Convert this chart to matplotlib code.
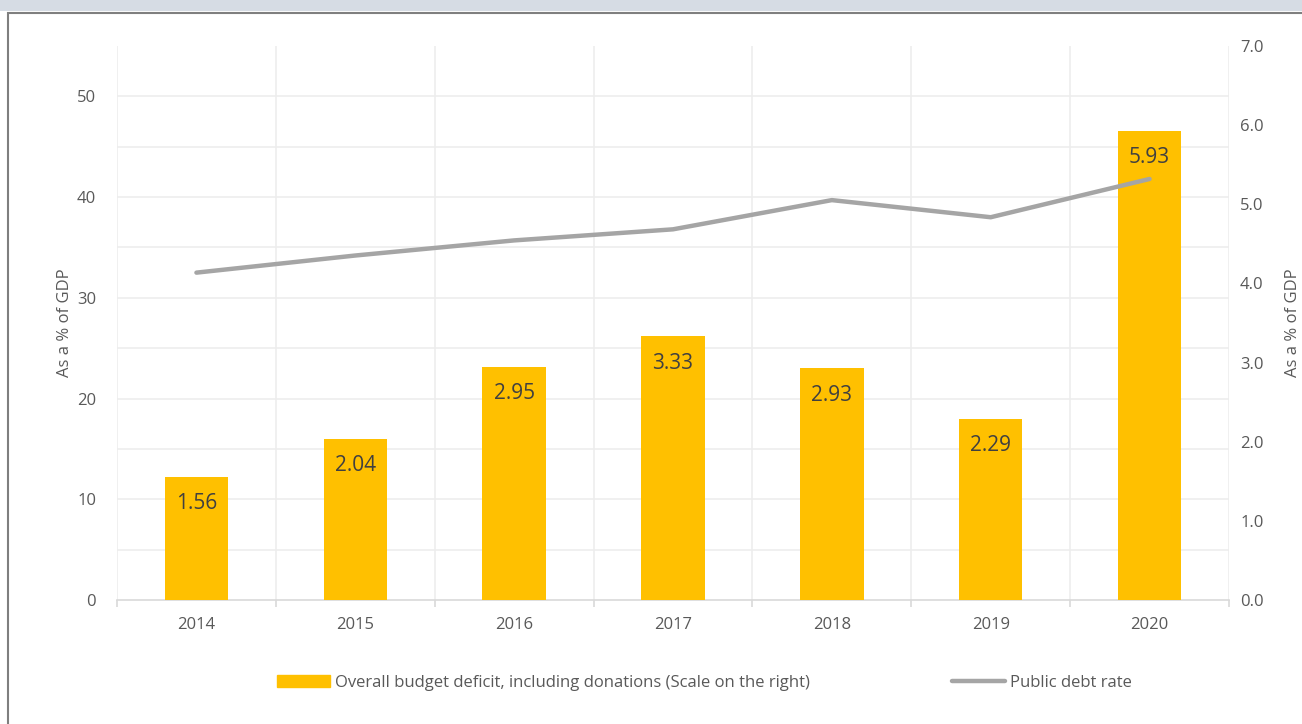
import matplotlib.pyplot as plt
import numpy as np
from matplotlib.patches import Rectangle

years = ["2014", "2015", "2016", "2017", "2018", "2019", "2020"]
deficit = [1.56, 2.04, 2.95, 3.33, 2.93, 2.29, 5.93]       # right scale
debt_rate = [32.5, 34.2, 35.7, 36.8, 39.7, 38.0, 41.8]      # left scale

bar_color = "#FFC000"
line_color = "#A5A5A5"
txt = "#595959"
grid_c = "#EDEDED"

plt.rcParams['font.family'] = ['Open Sans', 'DejaVu Sans']

fig = plt.figure(figsize=(13.02, 7.24), dpi=100)
fig.patch.set_facecolor("white")

# top strip + frame (page crop)
fig.patches.append(Rectangle((0, 1 - 11 / 724), 1, 11 / 724, transform=fig.transFigure,
                             facecolor="#D6DCE4", edgecolor="none", zorder=0))
fig.patches.append(Rectangle((8 / 1302, -0.05), 1.1, 1 - 13 / 724 + 0.05, transform=fig.transFigure,
                             facecolor="none", edgecolor="#7F7F7F", linewidth=1.5, zorder=0))

ax = fig.add_axes([117 / 1302, 1 - 600 / 724, (1229 - 117) / 1302, (600 - 46) / 724])
x = np.arange(len(years))

# bars on right scale
ax.bar(x, deficit, width=0.4, color=bar_color, zorder=3)
ax.set_ylim(0, 7.0)
ax.set_xlim(-0.5, len(years) - 0.5)

# line on left scale
ax2 = ax.twinx()
ax2.plot(x, debt_rate, color=line_color, linewidth=3.2, solid_capstyle="round", zorder=5)
ax2.set_ylim(0, 55)
ax2.yaxis.tick_left()
ax2.yaxis.set_label_position("left")
ax2.set_yticks(np.arange(0, 51, 10))
ax2.tick_params(axis="y", length=0, pad=15, labelsize=12, labelcolor=txt)
ax2.set_ylabel("As a % of GDP", fontsize=12, color=txt, labelpad=3)
for s in ax2.spines.values():
    s.set_visible(False)

ax.yaxis.tick_right()
ax.set_yticks(np.arange(0, 7.01, 1.0))
ax.set_yticklabels([f"{v:.1f}" for v in np.arange(0, 7.01, 1.0)])
ax.tick_params(axis="y", which="major", length=0, pad=8, labelsize=12, labelcolor=txt,
               left=False, labelleft=False, right=False, labelright=True)
ax.yaxis.set_label_position("right")
ax.set_ylabel("As a % of GDP", fontsize=12, color=txt, labelpad=15)

# gridlines follow the left scale (every 5)
ax.set_yticks(np.arange(0, 56, 5) * 7.0 / 55, minor=True)
ax.tick_params(axis="y", which="minor", length=0, left=False, right=False)
ax.set_xticks(x)
ax.set_xticklabels(years)
ax.set_xticks(np.arange(-0.5, len(years), 1), minor=True)
ax.tick_params(axis="x", which="major", length=0, pad=12, labelsize=12, labelcolor=txt)
ax.tick_params(axis="x", which="minor", length=5, color="#D9D9D9", width=1.2)
ax.grid(which="minor", color=grid_c, linewidth=1.2, zorder=0)
ax.grid(which="major", visible=False)
ax.set_axisbelow(True)
for s in ["top", "left", "right"]:
    ax.spines[s].set_visible(False)
ax.spines["bottom"].set_color("#D9D9D9")
ax.spines["bottom"].set_linewidth(1.2)

for xi, v in zip(x, deficit):
    ax.annotate(f"{v:.2f}", (xi, v), xytext=(0, -12), textcoords="offset points",
                ha="center", va="top", fontsize=15, color="#404040", zorder=4)

h1 = Rectangle((0, 0), 1, 1, color=bar_color)
h2 = plt.Line2D([], [], color=line_color, linewidth=3.2, solid_capstyle="round")
fig.legend([h1, h2], ["Overall budget deficit, including donations (Scale on the right)",
                      "Public debt rate"],
           loc="center", bbox_to_anchor=(0.541, 1 - 683 / 724), ncol=2, frameon=False,
           fontsize=12, labelcolor=txt, handlelength=3.2, handleheight=0.7,
           handletextpad=0.3, columnspacing=8.5)

fig.savefig("out.png", dpi=100)
